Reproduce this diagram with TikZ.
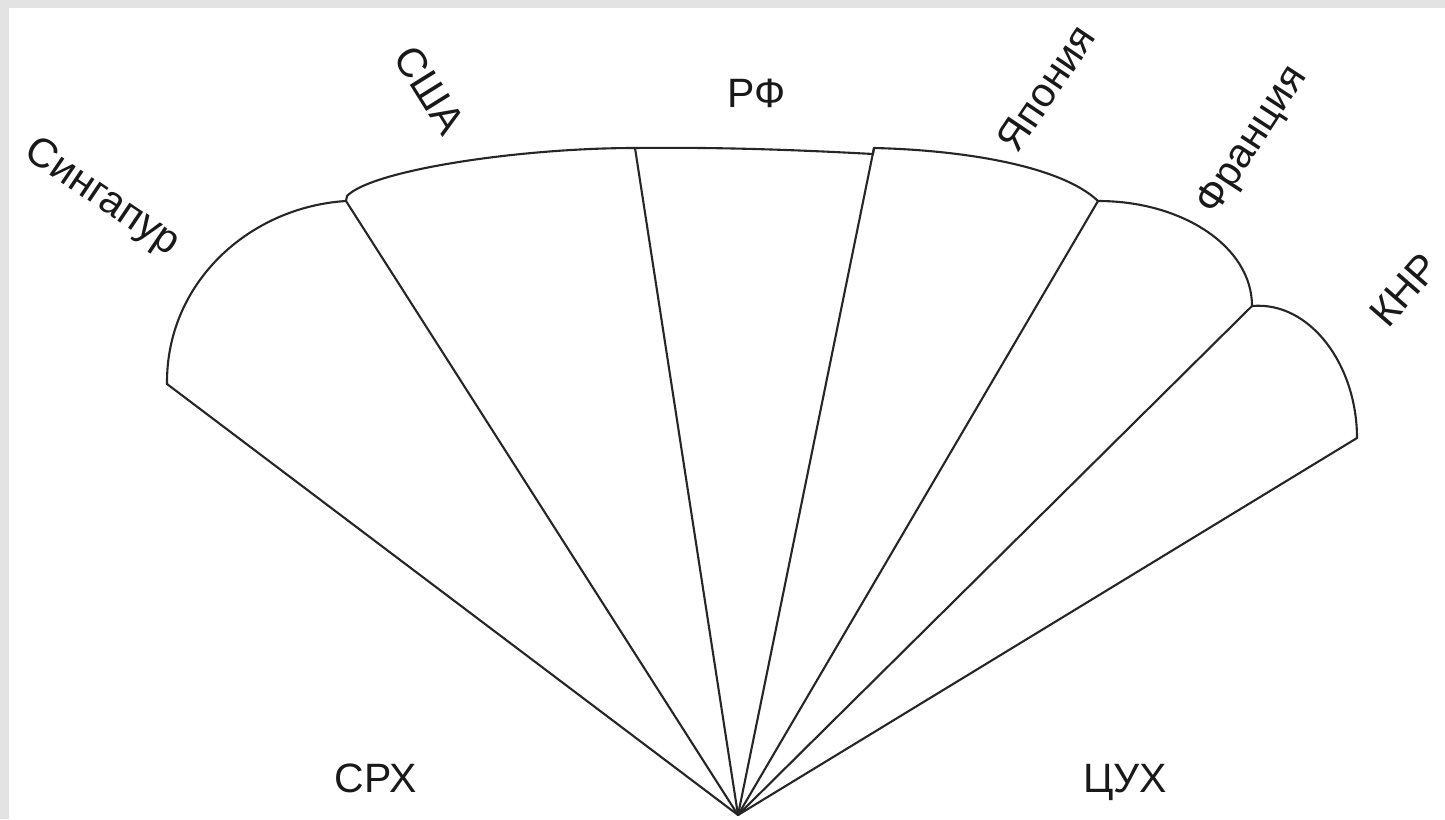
\documentclass[tikz,border=0pt]{standalone}
\usepackage{fontspec}
\setmainfont{Liberation Sans}
\begin{document}
\begin{tikzpicture}[x=1pt,y=-1pt,
  edge/.style={line width=2.1pt, draw=black!85, line join=round, line cap=round},
  lbl/.style={font=\fontsize{41}{48}\selectfont, inner sep=0pt, text=black!90}]
% frame and background
\fill[gray!22] (0,0) rectangle (1445,819);
\fill[white] (9,8) rectangle (1445,819);
\useasboundingbox (0,0) rectangle (1445,819);
% key points
\coordinate (C) at (738,815);
\coordinate (P0) at (167,384);
\coordinate (P1) at (346,201);
\coordinate (P1b) at (347,196);
\coordinate (P2) at (635,148);
\coordinate (P3) at (873,154);
\coordinate (P3b) at (874,148);
\coordinate (P4) at (1098,201);
\coordinate (P5) at (1252,306);
\coordinate (P6) at (1357,438);
% caps of the sectors
\draw[edge] (P0) .. controls (166,282) and (250,207) .. (P1);
\draw[edge] (P1) -- (P1b) .. controls (372,170) and (520,148) .. (P2);
\draw[edge] (P2) .. controls (720,147) and (800,150) .. (P3);
\draw[edge] (P3) -- (P3b) .. controls (960,150) and (1060,165) .. (P4);
\draw[edge] (P4) .. controls (1183,201) and (1252,247) .. (P5);
\draw[edge] (P5) .. controls (1310,301) and (1357,365) .. (P6);
% rays
\foreach \p in {P0,P1,P2,P3b,P4,P5,P6}
  \draw[edge] (C) -- (\p);
% labels
\node[lbl, rotate=-34] (sing) at (102,198) {Сингапур};
\node[lbl, rotate=-58] (usa) at (430,90) {США};
\node[lbl] (rf) at (757,93) {РФ};
\node[lbl, rotate=56] (jap) at (1046,88) {Япония};
\node[lbl, rotate=57] (fra) at (1253,141) {Франция};
\node[lbl, rotate=49] (knr) at (1404,290) {КНР};
\node[lbl, anchor=base] (srh) at (376,792) {СРХ};
\node[lbl, anchor=base] (cuh) at (1125,792) {ЦУХ};
\end{tikzpicture}
\end{document}
